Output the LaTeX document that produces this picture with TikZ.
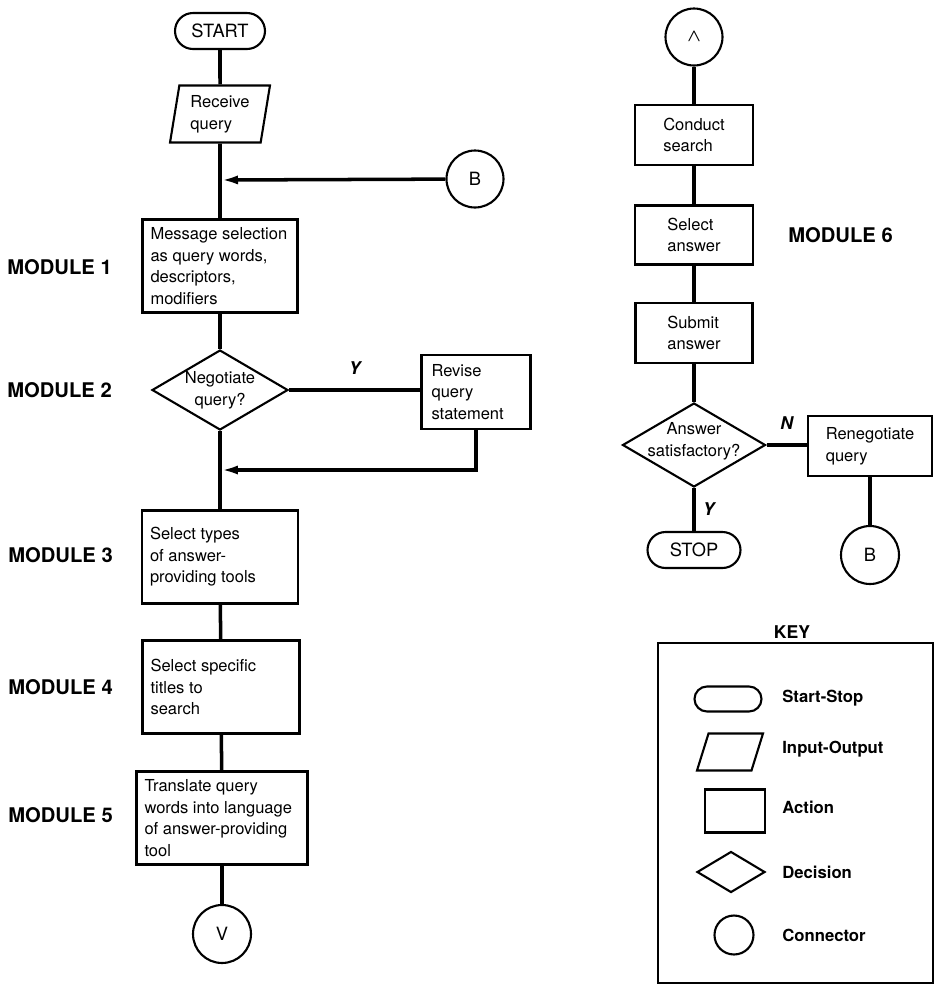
\documentclass[tikz,border=0pt]{standalone}
\usepackage{fontspec}
\setmainfont{TeX Gyre Heros}
\usepackage{tikz}
\usetikzlibrary{positioning,arrows.meta,shapes.geometric}
\newcommand{\boxfont}{\fontsize{9.4}{12.3}\selectfont}
\newcommand{\modfont}{\fontsize{11.5}{13}\selectfont\bfseries}
\tikzset{
  term/.style   ={draw, rectangle, line width=1.2pt, rounded corners=0.36cm, minimum width=1.8cm, minimum height=0.72cm, font=\fontsize{10.4}{12}\selectfont},
  inout/.style  ={draw, trapezium, trapezium left angle=80, trapezium right angle=100, trapezium stretches=true, line width=1.2pt, align=left, font=\boxfont, inner sep=1pt},
  act/.style    ={draw, rectangle, line width=1.2pt, align=left, font=\boxfont, inner sep=0pt},
  actl/.style   ={act, align=flush left, inner xsep=0.16cm, minimum height=1.86cm},
  dec/.style    ={draw, diamond, line width=1.2pt, inner sep=0pt},
  dtxt/.style   ={font=\boxfont, align=center, inner sep=0pt},
  conn/.style   ={draw, circle, line width=1.2pt, minimum size=1.14cm, inner sep=0pt, font=\fontsize{10.4}{12}\selectfont},
  modlbl/.style ={anchor=west, font=\modfont, inner sep=0pt},
  yn/.style     ={font=\fontsize{10}{11}\selectfont\bfseries\itshape, inner sep=0pt},
  keylbl/.style ={anchor=west, font=\fontsize{9.5}{11}\selectfont\bfseries, inner sep=0pt},
  flow/.style   ={line width=2pt},
  arr/.style    ={-{Latex[length=3.6mm, width=1.8mm]}, line width=2pt},
}

\begin{document}
\begin{tikzpicture}[x=0.02cm, y=-0.02cm]
  \useasboundingbox (0,0) rectangle (935,985);

  % Left column: modules 1 to 5
  \node[term]  (start) at (220, 31)  {START};
  \node[inout, minimum width=2.0cm, minimum height=1.14cm] (recv) at (220,114) {Receive\\query};
  \node[conn]  (bconn) at (475,179)  {B};
  \coordinate  (join1) at (220,180);
  \node[actl, text width=2.78cm] (msg) at (220,266) {Message selection\\as query words,\\descriptors,\\modifiers};
  \node[dec, minimum width=2.72cm, minimum height=1.6cm,
        label={[dtxt]center:Negotiate\\query?}] (neg) at (220,390) {};
  \node[act, align=flush left, inner xsep=0.2cm, text width=1.78cm, minimum height=1.48cm] (rev) at (476,392) {Revise\\query\\statement};
  \coordinate  (join2) at (220,470);
  \node[actl, text width=2.8cm]  (typ)   at (220,557) {Select types\\of answer-\\providing tools};
  \node[actl, text width=2.82cm] (spec)  at (221,687) {Select specific\\titles to\\search};
  \node[actl, text width=3.1cm]  (trans) at (222,818) {Translate query\\words into language\\of answer-providing\\tool};
  \node[conn, minimum size=1.16cm] (vconn) at (222,934) {V};

  % Module labels
  \node[modlbl] (mod1) at (7,267) {MODULE 1};
  \node[modlbl] (mod2) at (7,390) {MODULE 2};
  \node[modlbl] (mod3) at (8,555) {MODULE 3};
  \node[modlbl] (mod4) at (8,687) {MODULE 4};
  \node[modlbl] (mod5) at (8,815) {MODULE 5};
  \node[modlbl] (mod6) at (788,235) {MODULE 6};

  % Right column: module 6
  \node[conn]  (aconn) at (694, 37) {{\boldmath$\wedge$}};
  \node[act, minimum width=2.36cm, minimum height=1.2cm]  (cond) at (694,135) {Conduct\\search};
  \node[act, minimum width=2.36cm, minimum height=1.18cm] (sel)  at (694,235) {Select\\answer};
  \node[act, minimum width=2.34cm, minimum height=1.2cm]  (sub)  at (694,333) {Submit\\answer};
  \node[dec, minimum width=2.86cm, minimum height=1.68cm,
        label={[dtxt, yshift=0.08cm]center:Answer\\satisfactory?}] (ans) at (694,445) {};
  \node[act, minimum width=2.48cm, minimum height=1.2cm] (reneg) at (870,446) {Renegotiate\\query};
  \node[conn, minimum size=1.16cm] (bconn2) at (870,555) {B};
  \node[term, minimum width=1.86cm] (stop) at (694,550) {STOP};

  % Flow lines
  \draw[flow] (start) -- (recv);
  \draw[flow] (recv) -- (msg);
  \draw[arr]  (bconn) -- (join1);
  \draw[flow] (msg) -- (neg);
  \draw[flow] (neg) -- node[yn, midway, above=8pt]{Y} (rev.west |- neg.east);
  \draw[arr]  (rev.south) |- (join2);
  \draw[flow] (neg) -- (typ);
  \draw[flow] (typ) -- (spec);
  \draw[flow] (spec) -- (trans);
  \draw[flow] (trans) -- (vconn);

  \draw[flow] (aconn) -- (cond);
  \draw[flow] (cond) -- (sel);
  \draw[flow] (sel) -- (sub);
  \draw[flow] (sub) -- (ans);
  \draw[flow] (ans.east) -- node[yn, midway, above=8pt]{N} (reneg.west |- ans.east);
  \draw[flow] (reneg) -- (bconn2);
  \draw[flow] (ans) -- node[yn, midway, right=4pt]{Y} (stop);

  % Key
  \node[font=\fontsize{10}{11}\selectfont\bfseries] (keyttl) at (792,632) {KEY};
  \node[draw, line width=1.2pt, minimum width=5.5cm, minimum height=6.8cm] (keybox) at (795.5,813) {};
  \node[term, minimum width=1.34cm, minimum height=0.5cm, rounded corners=0.25cm] (kterm) at (728,699) {};
  \node[inout, trapezium left angle=75, trapezium right angle=105, minimum width=1.32cm, minimum height=0.74cm] (kio) at (730,752) {};
  \node[act, minimum width=1.2cm, minimum height=0.86cm] (kact) at (735,811) {};
  \node[dec, minimum width=1.36cm, minimum height=0.82cm] (kdec) at (731,872) {};
  \node[conn, minimum size=0.78cm] (kcon) at (734,935) {};
  \node[keylbl] (lterm) at (782,698) {Start-Stop};
  \node[keylbl] (lio)   at (782,749) {Input-Output};
  \node[keylbl] (lact)  at (782,807) {Action};
  \node[keylbl] (ldec)  at (782,872) {Decision};
  \node[keylbl] (lcon)  at (782,935) {Connector};
\end{tikzpicture}
\end{document}
